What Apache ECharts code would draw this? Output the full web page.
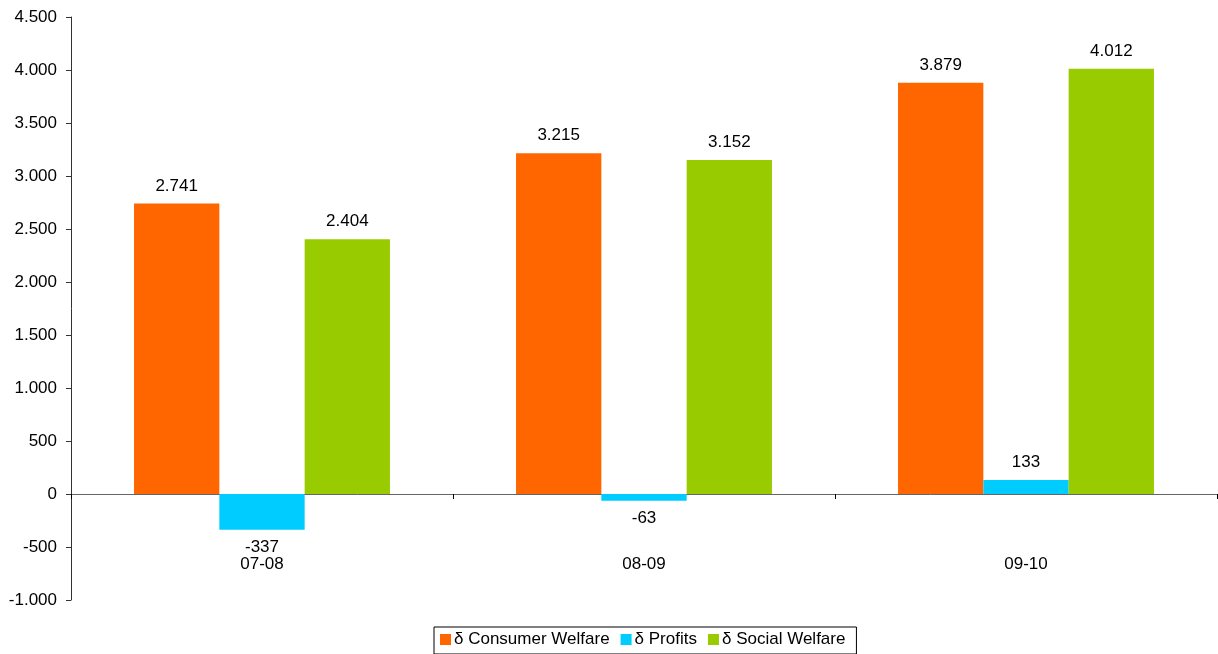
<!DOCTYPE html>
<html>
<head>
<meta charset="utf-8">
<script src="https://cdn.jsdelivr.net/npm/echarts@6/dist/echarts.min.js"></script>
<style>
  html, body { margin: 0; padding: 0; background: #fff; }
  #chart { width: 1218px; height: 654px; }
</style>
</head>
<body>
<div id="chart"></div>
<script>
// Seasons on the category axis
const categories = ['07-08', '08-09', '09-10'];
// Series names and values
const seriesNames = ['δ Consumer Welfare', 'δ Profits', 'δ Social Welfare'];
const consumerWelfare = [2741, 3215, 3879];
const profits = [-337, -63, 133];
const socialWelfare = [2404, 3152, 4012];
const seriesColors = ['#FF6600', '#00CCFF', '#99CC00'];

const FONT = 'Liberation Sans, Arial, sans-serif';

// Dotted thousands separator, e.g. 4500 -> "4.500"
function fmt(v) {
  const s = String(Math.abs(v)).replace(/\B(?=(\d{3})+(?!\d))/g, '.');
  return (v < 0 ? '-' : '') + s;
}

function makeSeries(name, values, color) {
  return {
    name: name,
    type: 'bar',
    barGap: '0%',
    barCategoryGap: '33%',
    itemStyle: { color: color },
    data: values.map(v => ({
      value: v,
      label: { position: v < 0 ? 'bottom' : 'top' }
    })),
    label: {
      show: true,
      distance: 9,
      color: '#000',
      fontSize: 17,
      fontFamily: FONT,
      formatter: p => fmt(p.value)
    }
  };
}

const chart = echarts.init(document.getElementById('chart'));
chart.setOption({
  animation: false,
  textStyle: { fontFamily: FONT },
  grid: { left: 71, right: 1, top: 17, bottom: 54, containLabel: false, outerBoundsMode: 'none' },
  legend: {
    left: 434,
    top: 627,
    padding: [4, 11, 6, 6],
    itemWidth: 11,
    itemHeight: 11,
    itemGap: 11,
    borderColor: '#000',
    borderWidth: 1,
    backgroundColor: '#fff',
    icon: 'rect',
    textStyle: { fontSize: 17, color: '#000', padding: [0, 0, 0, -2] },
    data: seriesNames
  },
  xAxis: {
    type: 'category',
    data: categories,
    axisLine: { onZero: true, lineStyle: { color: '#666', width: 1 } },
    axisTick: { show: true, length: 5, lineStyle: { color: '#000' } },
    axisLabel: { margin: -44, fontSize: 17, color: '#000' },
    splitLine: { show: false }
  },
  yAxis: {
    type: 'value',
    min: -1000,
    max: 4500,
    interval: 500,
    axisLine: { show: true, lineStyle: { color: '#333', width: 1 } },
    axisTick: { show: true, length: 5, lineStyle: { color: '#333' } },
    axisLabel: { margin: 14, fontSize: 17, color: '#000', formatter: v => fmt(v) },
    splitLine: { show: false }
  },
  series: [
    makeSeries(seriesNames[0], consumerWelfare, seriesColors[0]),
    makeSeries(seriesNames[1], profits, seriesColors[1]),
    makeSeries(seriesNames[2], socialWelfare, seriesColors[2])
  ]
});
</script>
</body>
</html>
